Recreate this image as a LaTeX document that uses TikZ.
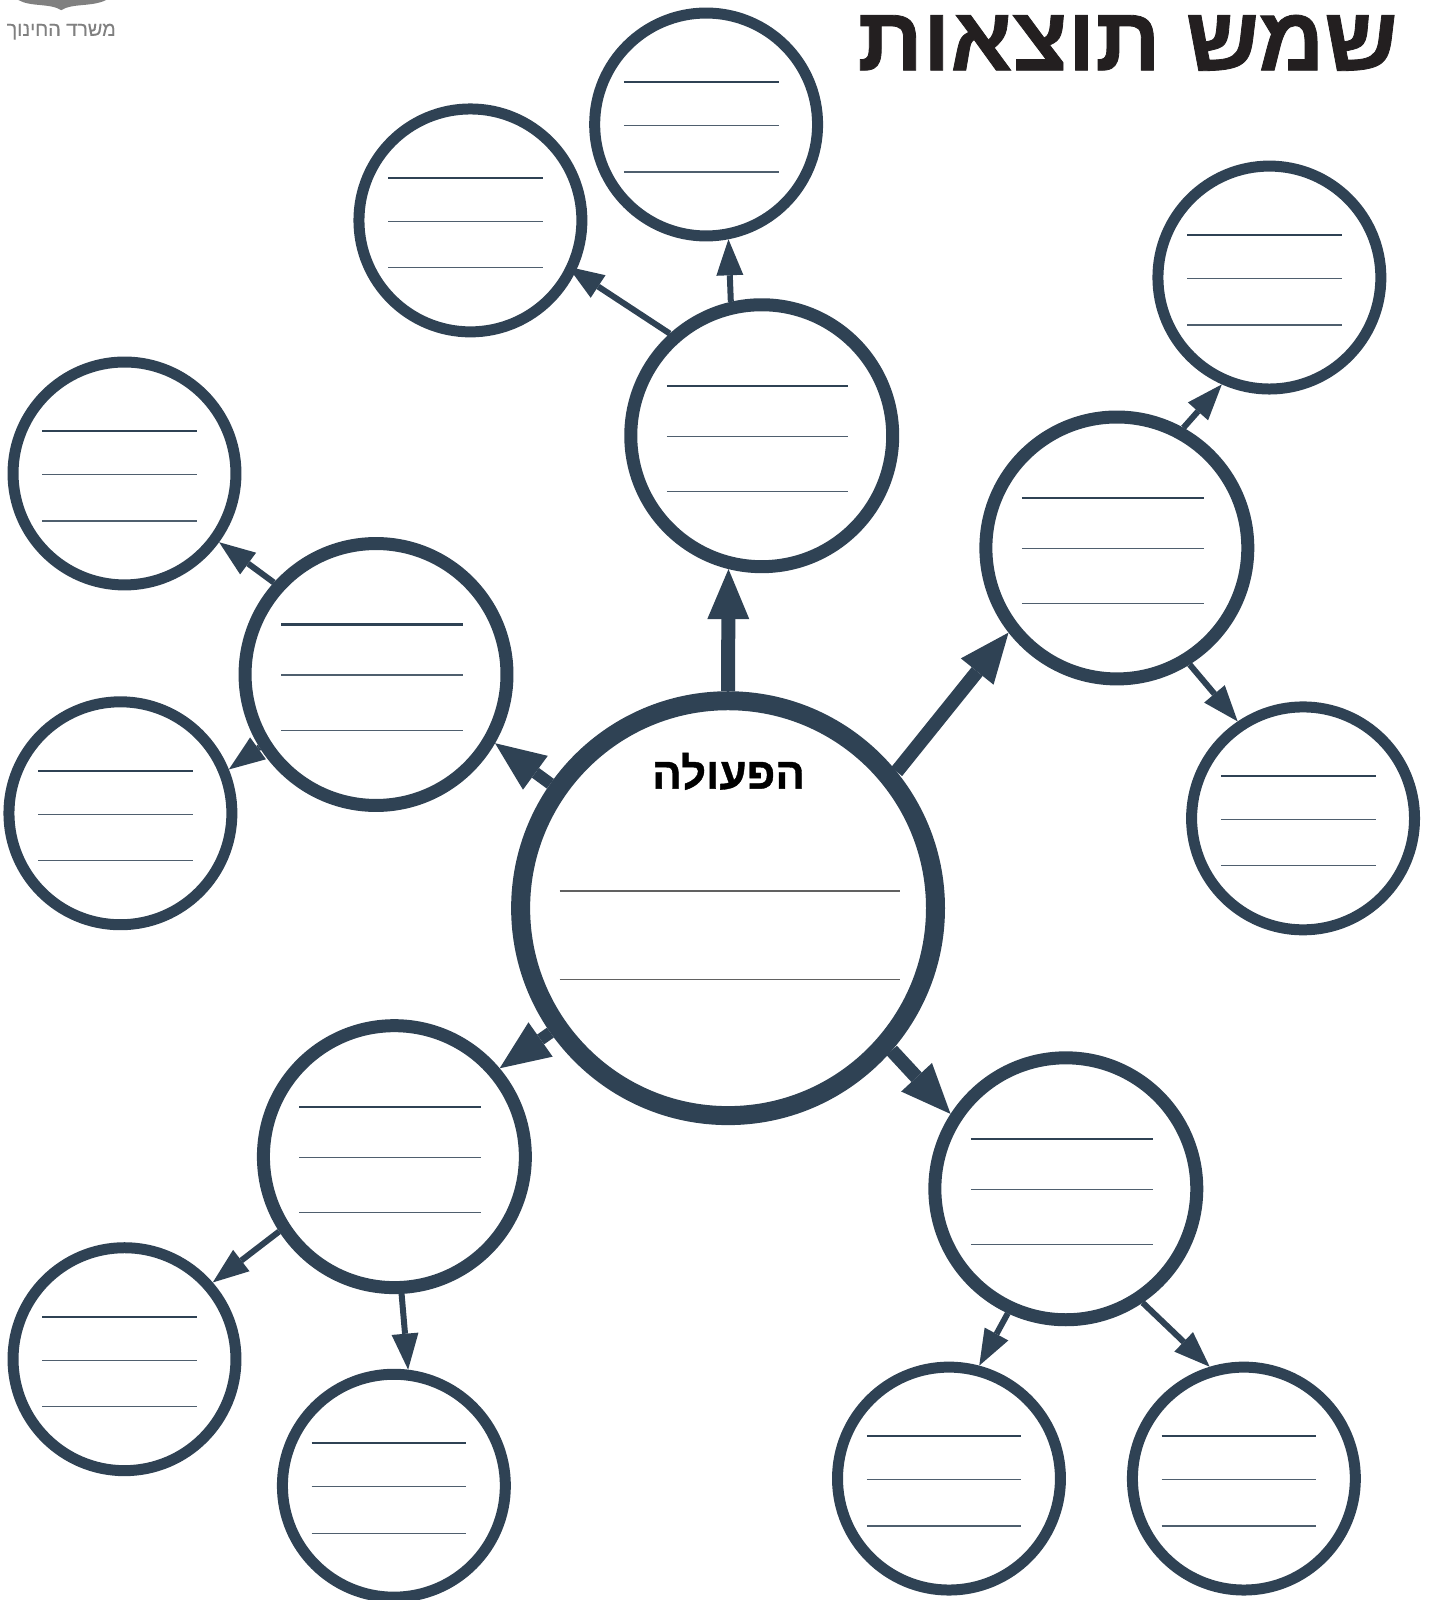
\documentclass[tikz,border=0pt]{standalone}
\usepackage{fontspec}
\usetikzlibrary{arrows.meta,calc}
\setmainfont{Liberation Sans}
\newfontfamily\hebfont[Script=Hebrew,FakeBold=0.2]{Liberation Sans}
\newfontfamily\heavyfont[Script=Hebrew,FakeBold=0.9]{Liberation Sans}
\TeXXeTstate=1
\definecolor{navy}{HTML}{2F4254}
\definecolor{rulegray}{HTML}{4F5F6E}
\definecolor{titleink}{HTML}{231F20}
\definecolor{logogray}{HTML}{808080}
\tikzset{
  x=1.0207pt,y=-1.0207pt,
  ring/.style={circle,draw=navy,fill=white,inner sep=0pt},
  bigring/.style={ring,line width=19pt,minimum size=415pt},
  midring/.style={ring,line width=13pt,minimum size=262pt},
  smallring/.style={ring,line width=11pt,minimum size=223pt},
  firstrule/.style={navy,line width=2.2pt},
  rule/.style={rulegray,line width=1.2pt},
  bigrule/.style={black!62,line width=1.5pt},
  heavyarrow/.style={navy,line width=14pt,-{Triangle[length=50pt,width=42pt,line width=0pt]}},
  lightarrow/.style={navy,line width=6pt,-{Triangle[length=36pt,width=27pt,line width=0pt]}},
}
\newcommand{\smallrules}[1]{%
  \draw[firstrule] ($(#1)+(-80.5,-41.5)$) -- ($(#1)+(71,-41.5)$);
  \draw[rule] ($(#1)+(-80.5,1)$) -- ($(#1)+(71,1)$);
  \draw[rule] ($(#1)+(-80.5,46.5)$) -- ($(#1)+(71,46.5)$);}
\newcommand{\midrules}[1]{%
  \draw[firstrule] ($(#1)+(-93,-49)$) -- ($(#1)+(85,-49)$);
  \draw[rule] ($(#1)+(-93,0.5)$) -- ($(#1)+(85,0.5)$);
  \draw[rule] ($(#1)+(-93,54.5)$) -- ($(#1)+(85,54.5)$);}
\begin{document}
\begin{tikzpicture}
\useasboundingbox (0,0) rectangle (1403,1568);
% rings
\node[bigring] (hub) at (713.5,890) {};
\node[midring] (mt) at (746.5,427) {};
\node[midring] (mr) at (1094.5,537) {};
\node[midring] (ml) at (368.5,661) {};
\node[midring] (mbl) at (386.5,1133.5) {};
\node[midring] (mbr) at (1044.5,1165) {};
\node[smallring] (s1) at (692,122) {};
\node[smallring] (s2) at (461,216) {};
\node[smallring] (s3) at (1244,272) {};
\node[smallring] (s4) at (1277,802) {};
\node[smallring] (s5) at (122,464) {};
\node[smallring] (s6) at (118,797) {};
\node[smallring] (s7) at (122,1332) {};
\node[smallring] (s8) at (386,1456) {};
\node[smallring] (s9) at (930,1449) {};
\node[smallring] (s10) at (1219,1449) {};
% rules
\foreach \n in {s1,s2,s3,s4,s5,s6,s7,s8,s9,s10} {\smallrules{\n}}
\foreach \n in {mt,mr,ml,mbl,mbr} {\midrules{\n}}
\draw[bigrule] (548.5,873) -- (882,873);
\draw[bigrule] (548.5,960) -- (882,960);
% heavy arrows
\draw[heavyarrow] (hub.90) -- (mt.256.3);
\draw[heavyarrow] (hub.39.9) -- (mr.218.7);
\draw[heavyarrow,line width=12pt] (hub.145.2) -- (ml.-30.7);
\draw[heavyarrow,line width=12pt] (hub.215.1) -- (mbl.40.1);
\draw[heavyarrow,line width=14pt] (hub.-41.4) -- (mbr.147.2);
% light arrows
\draw[lightarrow] (mt.103.8) -- (s1.-79.3);
\draw[lightarrow,shorten >=-9pt] (mt.132) -- (s2.-26.6);
\draw[lightarrow] (mr.61) -- (s3.246.6);
\draw[lightarrow] (mr.-58.1) -- (s4.124.4);
\draw[lightarrow] (ml.138.4) -- (s5.-36.7);
\draw[lightarrow] (ml.212) -- (s6.22.9);
\draw[lightarrow] (mbl.213.1) -- (s7.41.8);
\draw[lightarrow] (mbl.-87) -- (s8.83.6);
\draw[lightarrow] (mbr.245.1) -- (s9.75);
\draw[lightarrow] (mbr.-56) -- (s10.107.3);
% texts
\node[inner sep=0pt,text=titleink] (title) at (1105,42) {\heavyfont\bfseries\fontsize{91}{91}\selectfont\beginR שמש תוצאות\endR};
\node[inner sep=0pt,text=black] (act) at (714,756) {\heavyfont\bfseries\fontsize{44}{44}\selectfont\beginR הפעולה\endR};
\node[inner sep=0pt,text=logogray] (logo) at (60,31) {\hebfont\fontsize{19.8}{20}\selectfont\beginR משרד החינוך\endR};
\fill[logogray] (18,0) .. controls (30,7) and (50,3) .. (60,10) .. controls (70,3) and (90,7) .. (104,0) -- cycle;
\end{tikzpicture}
\end{document}
